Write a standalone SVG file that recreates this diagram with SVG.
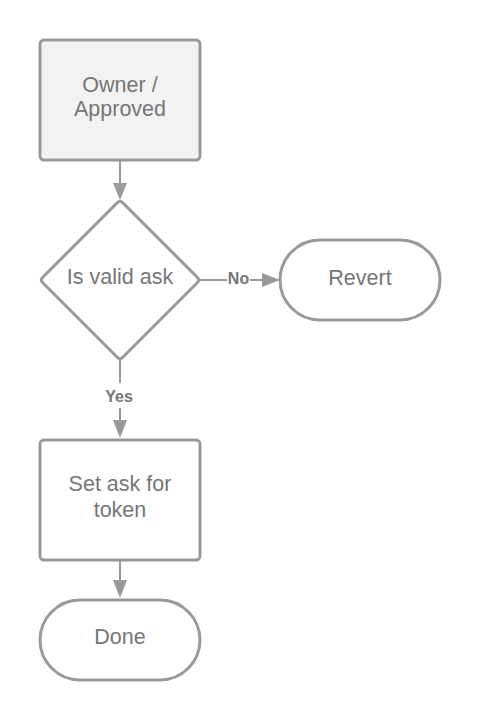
<svg xmlns="http://www.w3.org/2000/svg" width="480" height="720" viewBox="0 0 480 720">
<style>
.n{fill:#ffffff;stroke:#999999;stroke-width:3}
.t{font-family:"Liberation Sans",Arial,sans-serif;font-size:21.5px;fill:#767676;text-anchor:middle}
.c{stroke:#999999;stroke-width:2;fill:none}
.h{fill:#999999}
.l{font-family:"Liberation Sans",Arial,sans-serif;font-size:16px;font-weight:bold;fill:#767676;text-anchor:middle}
</style>
<rect width="480" height="720" fill="#ffffff"/>
<g id="connectors">
<path class="c" d="M120,160 V185"/>
<path class="h" d="M113,183 L127,183 L120,200 Z"/>
<path class="c" d="M200,280 H227 M250,280 H264"/>
<path class="h" d="M262,273 L280,280 L262,287 Z"/>
<text class="l" x="238.5" y="284">No</text>
<path class="c" d="M120,358 V383 M120,408 V422"/>
<path class="h" d="M113,420 L127,420 L120,438 Z"/>
<text class="l" x="119" y="402">Yes</text>
<path class="c" d="M120,560 V582"/>
<path class="h" d="M113,580 L127,580 L120,598 Z"/>
</g>
<g id="owner">
<rect class="n" x="40" y="40" width="160" height="120" rx="4" style="fill:#f2f2f2"/>
<text class="t" x="120" y="92">Owner /</text>
<text class="t" x="120" y="116">Approved</text>
</g>
<g id="valid">
<path class="n" d="M117.5,202.5 Q120,200 122.5,202.5 L197.5,277.5 Q200,280 197.5,282.5 L122.5,357.5 Q120,360 117.5,357.5 L42.5,282.5 Q40,280 42.5,277.5 Z"/>
<text class="t" x="120" y="284">Is valid ask</text>
</g>
<g id="revert">
<rect class="n" x="280" y="240" width="160" height="80" rx="40"/>
<text class="t" x="360" y="285">Revert</text>
</g>
<g id="setask">
<rect class="n" x="40" y="440" width="160" height="120" rx="4"/>
<text class="t" x="120" y="491">Set ask for</text>
<text class="t" x="120" y="517">token</text>
</g>
<g id="done">
<rect class="n" x="40" y="600" width="160" height="80" rx="40"/>
<text class="t" x="120" y="644">Done</text>
</g>
</svg>
